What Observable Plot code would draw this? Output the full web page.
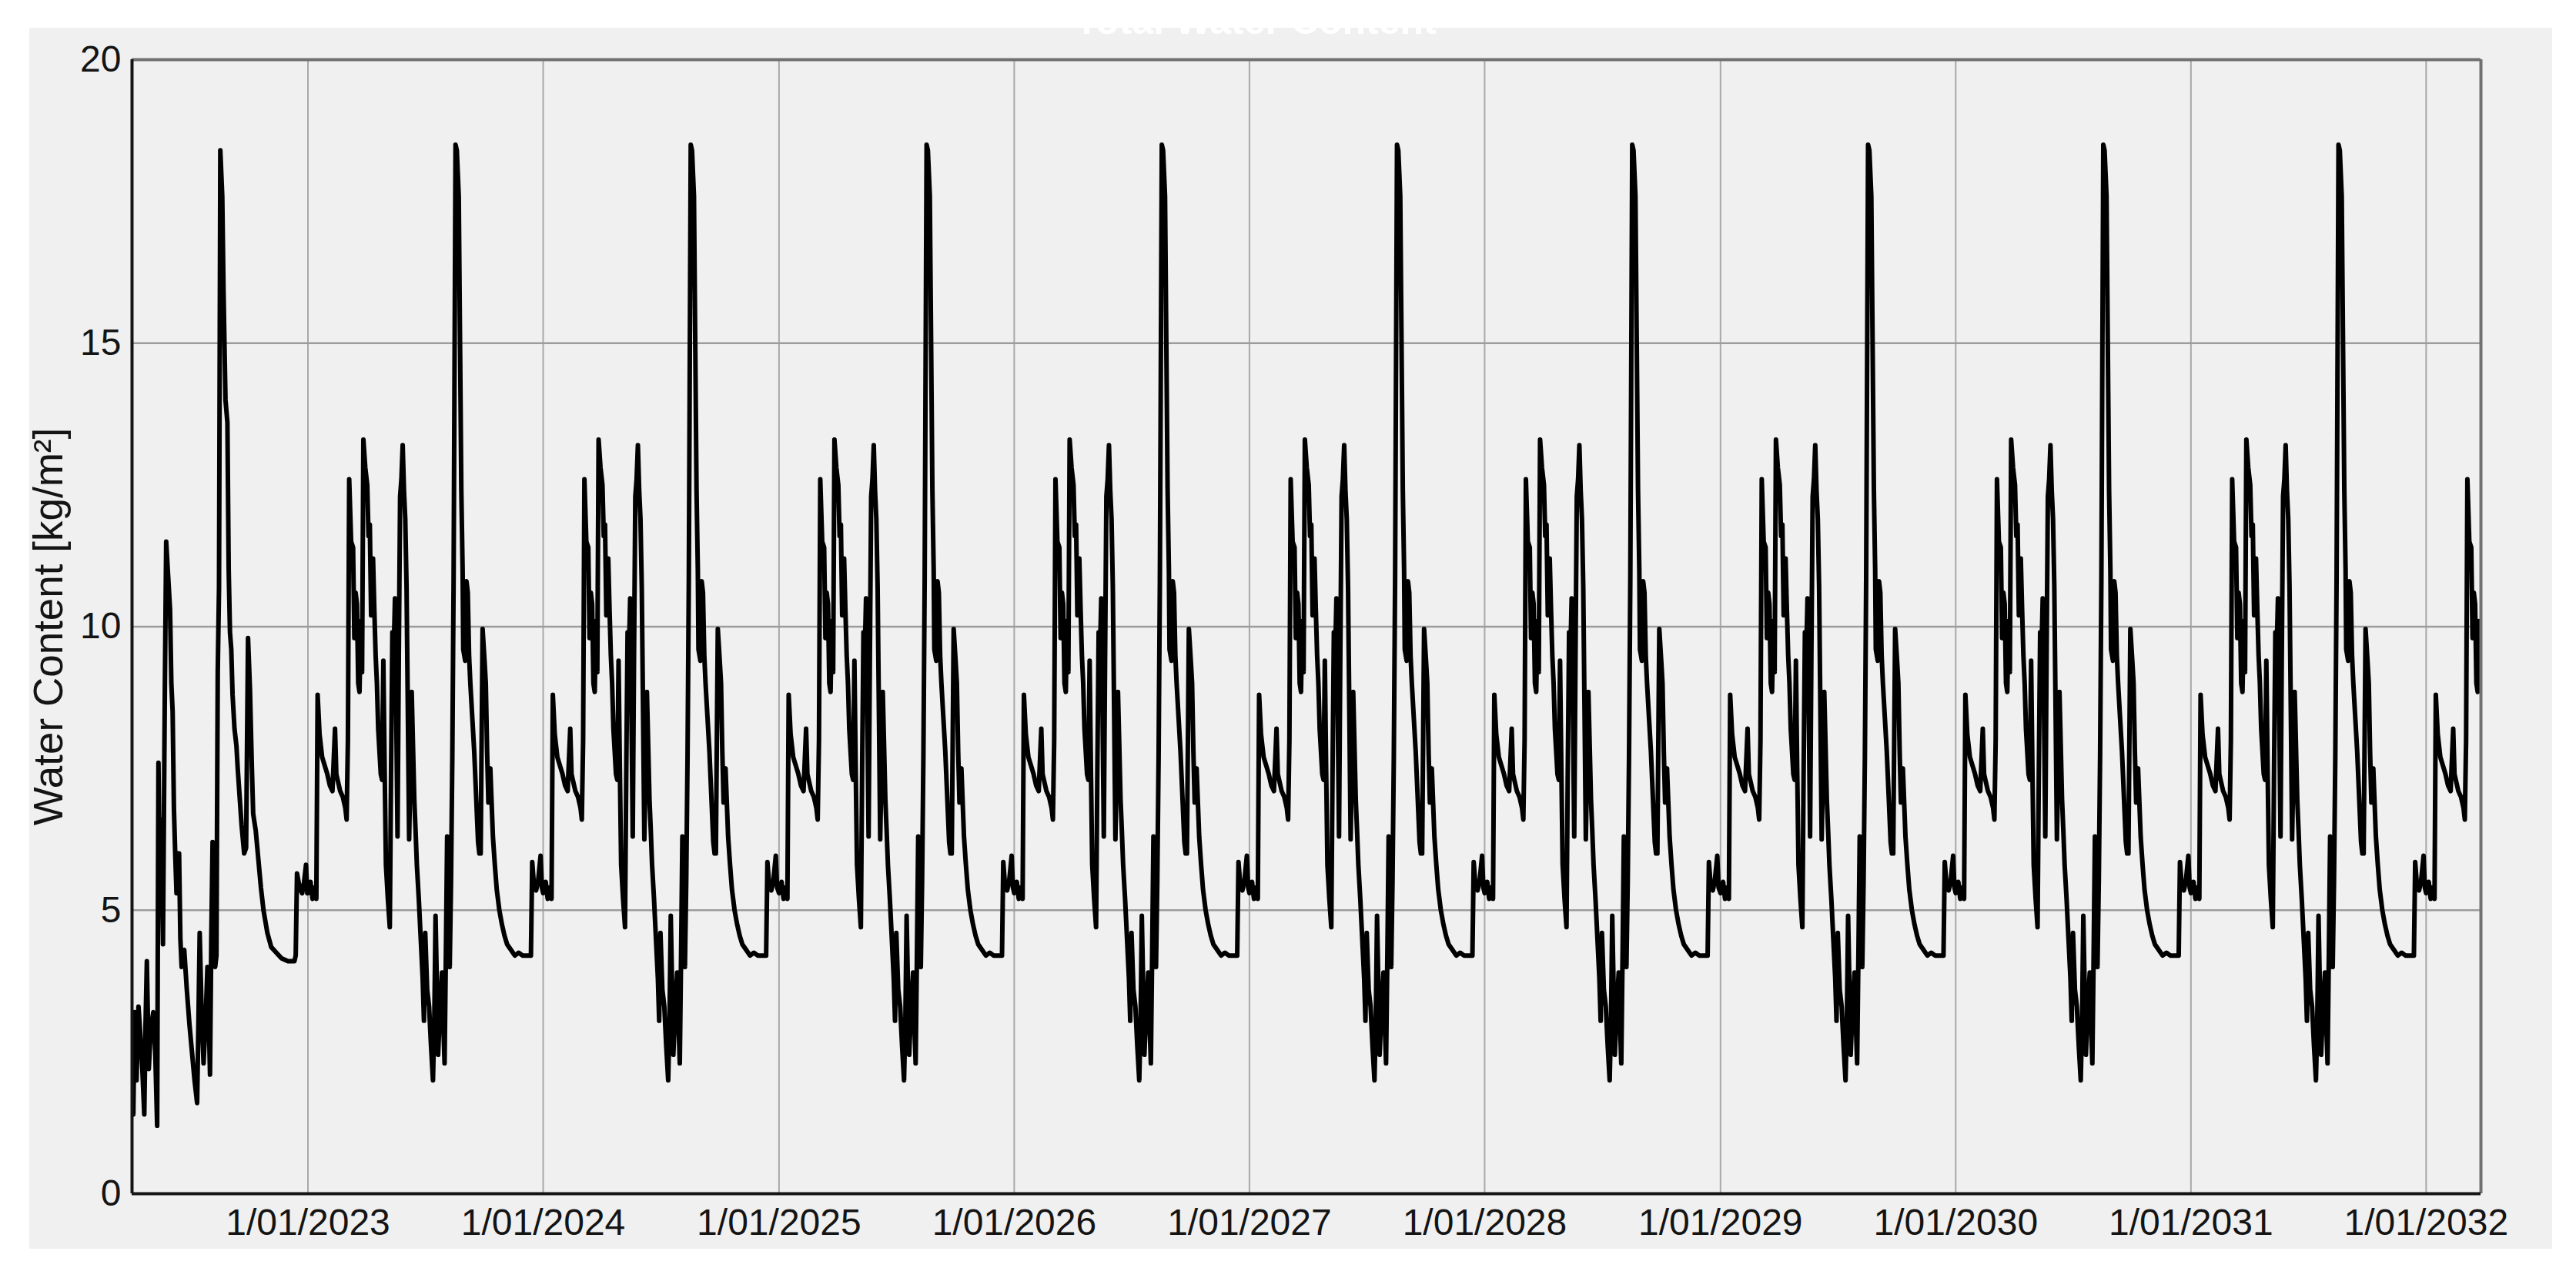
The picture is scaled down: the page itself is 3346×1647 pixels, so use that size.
<!DOCTYPE html>
<html>
<head>
<meta charset="utf-8">
<script src="https://cdn.jsdelivr.net/npm/d3@7"></script>
<script src="https://cdn.jsdelivr.net/npm/@observablehq/plot@0.6"></script>
<style>
  html, body { margin: 0; padding: 0; background: #ffffff; }
  #page { position: relative; width: 3346px; height: 1647px; overflow: hidden; background: #ffffff; }
  #panel { position: absolute; left: 38px; top: 36px; width: 3277px; height: 1586px; background: #f0f0f0; }
  #chart { position: absolute; left: 0; top: 0; }
  #title { position: absolute; left: 1331px; width: 600px; top: 2px; text-align: center;
           font-family: "Liberation Sans", Arial, sans-serif; font-weight: bold; font-size: 50px;
           line-height: 1; color: #ffffff; z-index: 2; }
</style>
</head>
<body>
<div id="page">
  <div id="panel"></div>
  <div id="chart"></div>
  <div id="title">Total Water Content</div>
</div>
<script>
// ---- data ----
// First (partial) simulation year 2022: day of year and water content [kg/m²]
const firstDays = [93,94,96,99,102,105,108,111,113,115,118,121,125,128,131,133,135,137,140,143,145,148,151,153,155,157,159,161,163,165,167,169,173,177,181,185,189,193,195,197,200,203,206,209,211,213,215,217,219,221,223,225,227,229,232,234,237,240,242,244,246,248,251,254,256,259,262,266,269,272,275,278,280,284,288,292,296,302,308,316,324,334,344,346,348,352,356,359,362,364];
const firstVals = [2.8,1.4,3.2,2.0,3.3,2.8,2.2,1.4,3.0,4.1,2.2,2.9,3.2,2.5,1.2,7.6,5.5,6.6,4.4,9.0,11.5,10.9,10.3,9.0,8.5,6.8,6.0,5.3,6.0,6.0,4.5,4.0,4.3,3.6,3.0,2.5,2.0,1.6,3.0,4.6,3.2,2.3,3.0,4.0,3.2,2.1,4.5,6.2,5.0,4.0,4.2,9.2,10.7,18.4,17.6,15.9,14.0,13.6,11.0,9.9,9.6,8.8,8.2,7.9,7.5,7.0,6.5,6.0,6.1,9.8,8.9,7.5,6.7,6.4,5.9,5.4,5.0,4.6,4.35,4.25,4.15,4.1,4.1,4.2,5.65,5.4,5.3,5.5,5.8,5.3];

// Annual pattern repeated by the simulation from 2023 on: day after 1 January and value [kg/m²]
const cycleDays = [0,4,7,10,13,15,18,22,26,30,34,38,42,44,46,50,54,58,60,62,64,67,70,72,74,76,78,80,82,84,86,89,92,94,96,98,101,103,105,107,109,111,113,115,117,119,121,124,127,129,131,133,135,137,139,141,143,145,147,149,151,153,155,157,159,161,163,165,167,169,172,175,178,180,182,185,188,191,194,196,198,200,202,205,208,210,212,214,216,218,220,222,224,226,229,231,234,236,238,240,241,244,246,248,250,252,255,258,261,264,266,268,271,274,276,278,280,283,285,287,290,293,297,301,305,309,315,321,327,333,340,346,348,351,354,357,361,363];
const cycleVals = [5.3,5.5,5.2,5.4,5.2,8.8,8.1,7.7,7.55,7.4,7.2,7.1,8.2,7.4,7.3,7.1,7.0,6.8,6.6,8.0,12.6,11.5,11.4,9.8,10.6,10.4,9.0,8.85,10.1,9.2,13.3,12.8,12.5,11.6,11.8,10.2,11.2,10.3,9.5,9.0,8.2,7.8,7.4,7.3,9.4,7.5,5.8,5.2,4.7,7.5,9.9,9.5,10.5,8.5,6.3,9.5,12.3,12.6,13.2,12.4,11.9,10.7,8.5,6.25,7.5,8.85,7.9,6.95,6.4,5.8,5.2,4.5,3.8,3.05,4.6,3.6,3.3,2.6,2.0,3.0,4.9,3.7,2.45,3.3,3.9,3.0,2.3,4.2,6.3,5.0,4.0,5.5,7.66,10.8,18.5,18.4,17.6,15.0,12.4,11.0,9.6,9.4,10.8,10.6,9.5,9.0,8.4,7.8,7.0,6.2,6.0,6.0,9.96,9.4,9.0,7.8,6.9,7.5,6.9,6.3,5.8,5.36,5.0,4.75,4.55,4.4,4.3,4.2,4.25,4.2,4.2,4.2,5.85,5.4,5.35,5.5,5.96,5.4];
const cycleYears = [2023,2024,2025,2026,2027,2028,2029,2030,2031,2032];
const lastDay2032 = 84;

const tickYears = [2023,2024,2025,2026,2027,2028,2029,2030,2031,2032];
const yTicks = [0,5,10,15,20];
const yLabel = "Water Content [kg/m²]";

// ---- build table ----
const DAY = 86400000;
const rows = [];
firstDays.forEach((d, i) => rows.push({date: new Date(Date.UTC(2022, 0, 1) + d * DAY), value: firstVals[i]}));
for (const yr of cycleYears) {
  cycleDays.forEach((d, i) => {
    if (yr === 2032 && d > lastDay2032) return;
    rows.push({date: new Date(Date.UTC(yr, 0, 1) + d * DAY), value: cycleVals[i]});
  });
}
const tickDates = tickYears.map(y => new Date(Date.UTC(y, 0, 1)));
const xStart = new Date(Date.UTC(2022, 3, 3));
const xEnd = new Date(Date.UTC(2032, 2, 26));
const fmt = d => `1/01/${d.getUTCFullYear()}`;

const chart = Plot.plot({
  width: 3346,
  height: 1647,
  marginLeft: 171,
  marginRight: 124,
  marginTop: 77,
  marginBottom: 97,
  style: {background: "transparent", fontFamily: "'Liberation Sans', Arial, sans-serif", fontSize: "48px", color: "#141414"},
  x: {type: "utc", domain: [xStart, xEnd], label: null},
  y: {domain: [0, 20], label: null},
  marks: [
    Plot.gridX(tickDates, {stroke: "#a8a8a8", strokeWidth: 2, strokeOpacity: 1}),
    Plot.gridY([5, 10, 15], {stroke: "#9c9c9c", strokeWidth: 2.5, strokeOpacity: 1}),
    Plot.lineY(rows, {x: "date", y: "value", stroke: "#000000", strokeWidth: 6, clip: true}),
    Plot.ruleY([20], {stroke: "#707070", strokeWidth: 4}),
    Plot.ruleX([xEnd], {stroke: "#707070", strokeWidth: 4}),
    Plot.ruleY([0], {stroke: "#141414", strokeWidth: 4}),
    Plot.ruleX([xStart], {stroke: "#141414", strokeWidth: 4}),
    Plot.axisX(tickDates, {tickSize: 0, tickPadding: 19, tickFormat: fmt, label: null}),
    Plot.axisY(yTicks, {tickSize: 0, tickPadding: 14, tickFormat: d => String(d), label: null}),
    Plot.text([yLabel], {frameAnchor: "left", dx: -107, rotate: -90, textAnchor: "middle", text: d => d, fontSize: 53, fill: "#141414"})
  ]
});
document.getElementById("chart").appendChild(chart);
</script>
</body>
</html>
